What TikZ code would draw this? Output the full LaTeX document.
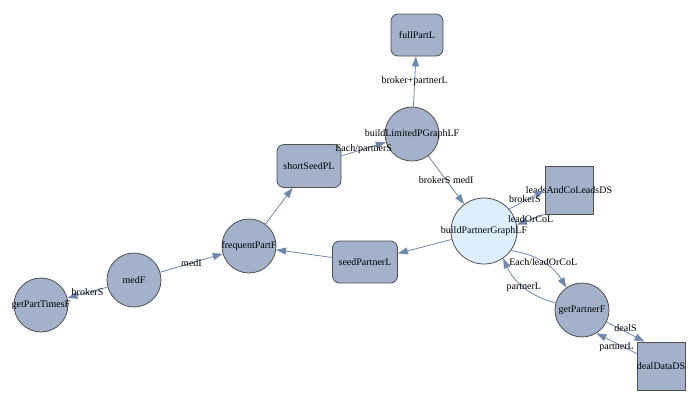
\documentclass[tikz,border=0pt]{standalone}
\usepackage{fontspec}
\setmainfont{Liberation Serif}
\usepackage{xcolor}
\usetikzlibrary{arrows.meta}
\definecolor{nodegray}{RGB}{163,177,202}
\definecolor{nodelight}{RGB}{221,238,255}
\definecolor{edgeblue}{RGB}{112,134,174}
\definecolor{rimgray}{RGB}{80,80,80}
% text that may run past its node's outline
\newcommand{\wide}[1]{\makebox[0pt]{#1}}

\begin{document}
\begin{tikzpicture}[
  x=1pt, y=-1pt,
  font=\fontsize{10}{11}\selectfont,
  func/.style={circle, draw=rimgray, fill=nodegray, minimum size=54pt, inner sep=0pt, line width=0.8pt},
  funclight/.style={func, fill=nodelight, minimum size=66pt},
  lst/.style={rectangle, rounded corners=7pt, draw=rimgray, fill=nodegray, line width=0.8pt, inner sep=0pt},
  ds/.style={rectangle, draw=rimgray, fill=nodegray, minimum size=48pt, inner sep=0pt, line width=0.8pt},
  arr/.style={-{Triangle[length=10pt, width=7pt]}, edgeblue, line width=0.8pt},
  lab/.style={text=black, inner sep=0.5pt},
]
\useasboundingbox (0,0) rectangle (700,405);
% ---- list nodes ----
\node[lst, minimum width=52pt, minimum height=42pt] (fullpart) at (417,35) {fullPartL};
\node[lst, minimum width=64pt, minimum height=43pt] (shortseed) at (309,166) {shortSeedPL};
\node[lst, minimum width=65pt, minimum height=42pt] (seedpartner) at (365,262) {seedPartnerL};
% ---- function nodes ----
\node[func] (buildlim) at (412,134) {\wide{buildLimitedPGraphLF}};
\node[func] (freqpart) at (249,246) {\wide{frequentPartF}};
\node[funclight] (buildpartner) at (484,231) {\wide{buildPartnerGraphLF}};
\node[func] (getpartner) at (582,310) {\wide{getPartnerF}};
\node[func] (medf) at (134,280) {medF};
\node[func] (getparttimes) at (41,305) {\wide{getPartTimesF}};
% ---- data sources ----
\node[ds] (leads) at (569,190) {\wide{leadsAndCoLeadsDS}};
\node[ds] (dealdata) at (661,366) {\wide{dealDataDS}};
% ---- edges ----
\draw[arr] (buildlim) -- node[lab, midway] {broker+partnerL} (fullpart);
\draw[arr] (shortseed) -- node[lab, midway] {Each/partnerS} (buildlim);
\draw[arr] (buildlim) -- node[lab, midway] {brokerS medI} (buildpartner);
\draw[arr] (buildpartner.41) -- node[lab, midway, xshift=-2pt] {brokerS} (leads.west);
\draw[arr] (leads.south west) -- node[lab, midway] {leadOrCoL} (buildpartner.11);
\draw[arr] (buildpartner.-36) to[bend left=25] node[lab, midway] {Each/leadOrCoL} (getpartner.125);
\draw[arr] (getpartner.165) to[bend left=25] node[lab, midway] {partnerL} (buildpartner.-55);
\draw[arr] (getpartner.-26) -- node[lab, midway, yshift=4pt] {dealS} (dealdata.124);
\draw[arr] (dealdata.153) -- node[lab, midway, yshift=-4pt] {partnerL} (getpartner.-58);
\draw[arr] (buildpartner) -- (seedpartner);
\draw[arr] (seedpartner) -- (freqpart);
\draw[arr] (freqpart) -- (shortseed);
\draw[arr] (medf) -- node[lab, midway] {medI} (freqpart);
\draw[arr] (medf) -- node[lab, midway] {brokerS} (getparttimes);
\end{tikzpicture}
\end{document}
